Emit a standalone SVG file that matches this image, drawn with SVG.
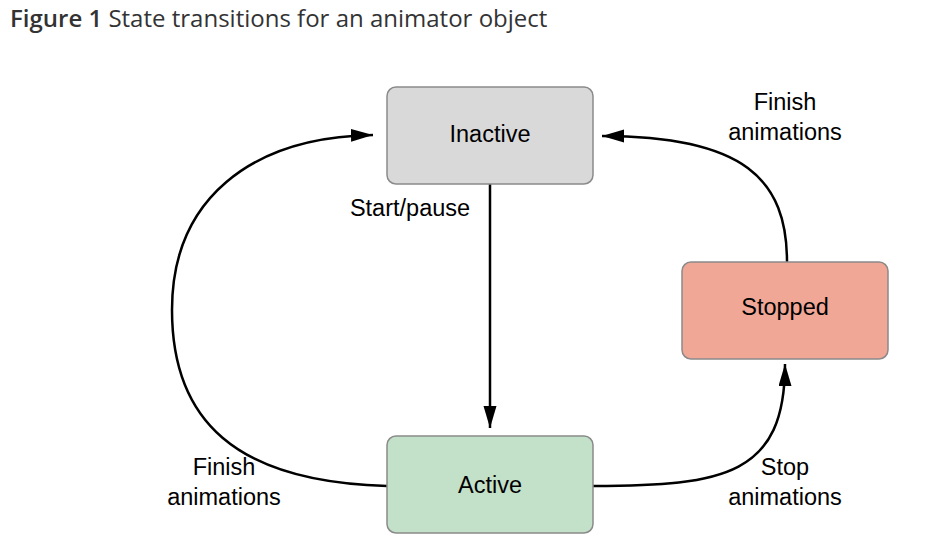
<svg xmlns="http://www.w3.org/2000/svg" width="950" height="546" viewBox="0 0 950 546">
<style>
.box{stroke:#8a8a8a;stroke-width:1.5}
.lbl{font-family:"Liberation Sans",Arial,sans-serif;font-size:23.5px;fill:#000;text-anchor:middle}
.edge{fill:none;stroke:#000;stroke-width:2.5}
.title{font-family:"Open Sans","Noto Sans",sans-serif;font-size:24px;fill:#333}
</style>
<defs>
<marker id="arr" markerUnits="userSpaceOnUse" markerWidth="24" markerHeight="14" refX="22" refY="6.5" orient="auto">
<path d="M0,0 L22,6.5 L0,13 z" fill="#000"/>
</marker>
</defs>
<rect width="950" height="546" fill="#fff"/>
<text class="title" x="10" y="27"><tspan font-weight="600">Figure 1</tspan> State transitions for an animator object</text>
<g id="connectors">
<path class="edge" d="M490,184 L490,428" marker-end="url(#arr)"/>
<path class="edge" d="M387,486 C235,482 172,420 172,310 C172,200 250,137 373,135" marker-end="url(#arr)"/>
<path class="edge" d="M787,262 C787,180 745,136 602,136" marker-end="url(#arr)"/>
<path class="edge" d="M593,486 C725,486 785,475 785,364" marker-end="url(#arr)"/>
<text class="lbl" x="410" y="216">Start/pause</text>
<text class="lbl" x="224" y="475">Finish</text>
<text class="lbl" x="224" y="505">animations</text>
<text class="lbl" x="785" y="110">Finish</text>
<text class="lbl" x="785" y="140">animations</text>
<text class="lbl" x="785" y="475">Stop</text>
<text class="lbl" x="785" y="505">animations</text>
</g>
<g id="inactive">
<rect class="box" x="387" y="87" width="206" height="97" rx="9" fill="#d9d9d9"/>
<text class="lbl" x="490" y="142">Inactive</text>
</g>
<g id="stopped">
<rect class="box" x="682" y="262" width="206" height="97" rx="9" fill="#f0a796"/>
<text class="lbl" x="785" y="315">Stopped</text>
</g>
<g id="active">
<rect class="box" x="387" y="436" width="206" height="97" rx="9" fill="#c3e0c8"/>
<text class="lbl" x="490" y="493">Active</text>
</g>
</svg>
